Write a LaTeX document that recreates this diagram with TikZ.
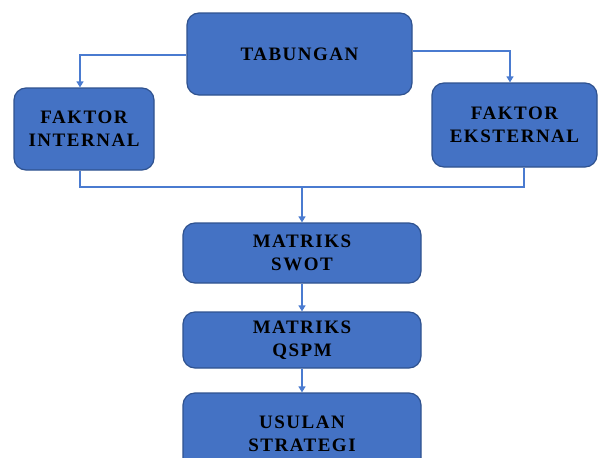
\documentclass[tikz,border=0pt]{standalone}
\usepackage{fontspec}
\setmainfont{Liberation Serif}
\newfontfamily\boxfont[LetterSpace=8]{Liberation Serif}
\usepackage{xcolor}
\usepackage{tikz}
\tikzset{>=latex}
\usetikzlibrary{
    positioning, % posicionamento relativo
    arrows.meta, % setas
    calc % coordenadas
}
\definecolor{boxblue}{HTML}{4472C4}
\definecolor{boxedge}{HTML}{2F528F}
\definecolor{linkblue}{HTML}{4A7BD0}

\begin{document}
\begin{tikzpicture}[x=1pt,y=1pt]
    \useasboundingbox (0,0) rectangle (598,-458);
    % blocks
    \tikzstyle{block} = [rectangle, rounded corners=12pt, fill=boxblue, draw=boxedge, line width=1.2pt,
                         text=black, align=center, inner sep=0pt,
                         font=\boxfont\bfseries\fontsize{19}{23}\selectfont]
    \tikzstyle{line}  = [draw=linkblue, line width=1.3pt, -{Triangle[length=6pt,width=7pt]}]
    \tikzstyle{plain} = [draw=linkblue, line width=1.3pt]
    \node[block, minimum width=225pt, minimum height=82pt] (tab)   at (299.5,-54)  {TABUNGAN};
    \node[block, minimum width=140pt, minimum height=82pt] (fint)  at (84,-129)    {FAKTOR\\INTERNAL};
    \node[block, minimum width=165pt, minimum height=84pt] (fext)  at (514.5,-125) {FAKTOR\\EKSTERNAL};
    \node[block, minimum width=238pt, minimum height=60pt] (swot)  at (302,-253)   {MATRIKS\\SWOT};
    \node[block, minimum width=238pt, minimum height=56pt] (qspm)  at (302,-340)   {MATRIKS\\QSPM};
    \node[block, minimum width=238pt, minimum height=82pt] (usul)  at (302,-434)   {USULAN\\STRATEGI};
    % arrows
    \coordinate (merge) at (302,-187);
    \draw[line] ([yshift=-1pt]tab.west) -| ([xshift=-4pt]fint.north);
    \draw[line] ([yshift=3pt]tab.east) -| ([xshift=-4.5pt]fext.north);
    \draw[plain] ([xshift=-4pt]fint.south) |- (merge);
    \draw[plain] ([xshift=9.5pt]fext.south) |- (merge);
    \draw[line] (merge) -- (swot);
    \draw[line] (swot) -- (qspm);
    \draw[line] (qspm) -- (usul);
\end{tikzpicture}
\end{document}
